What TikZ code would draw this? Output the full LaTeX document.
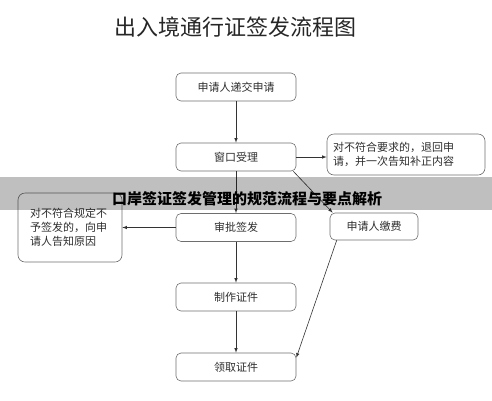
\documentclass[tikz,border=0pt]{standalone}
\usepackage{fontspec}
\usepackage{xcolor}
\usepackage{tikz}
\usetikzlibrary{shapes,arrows,positioning}
\newfontfamily\cjk{Noto Sans CJK SC}
\definecolor{boxline}{RGB}{110,110,110}
\definecolor{boxtext}{RGB}{45,45,45}
\tikzset{
    stepbox/.style={
        draw=boxline,
        line width=0.6pt,
        rounded corners=5pt,
        minimum width=120pt,
        minimum height=28pt,
        text=boxtext,
        font=\cjk\fontsize{11pt}{14pt}\selectfont
    },
    notebox/.style={
        stepbox,
        minimum width=0pt,
        minimum height=0pt,
        align=left,
        inner sep=6pt,
        rounded corners=7pt
    },
    flow/.style={
        -latex,
        line width=0.6pt,
        draw=black!80
    }
}
\begin{document}
\begin{tikzpicture}[x=1pt,y=-1pt]
    \useasboundingbox (0,0) rectangle (492,400);

    \node[font=\cjk\fontsize{22pt}{24pt}\selectfont, text=black!85] (title) at (235,27) {出入境通行证签发流程图};

    % main column
    \node[stepbox] (submit) at (236,87) {申请人递交申请};
    \node[stepbox] (accept) at (236,157) {窗口受理};
    \node[stepbox] (approve) at (236,227.5) {审批签发};
    \node[stepbox] (make) at (236,297) {制作证件};
    \node[stepbox] (collect) at (236,367) {领取证件};

    % side boxes
    \node[notebox, text width=146pt, minimum height=41pt] (back) at (406,154.5)
        {对不符合要求的，退回申\\请，并一次告知补正内容};
    \node[stepbox, minimum width=88pt, minimum height=27pt] (pay) at (374,226.5) {申请人缴费};
    \node[notebox, text width=80pt, minimum width=104pt, minimum height=69pt] (refuse) at (70,227.5)
        {对不符合规定不\\予签发的，向申\\请人告知原因};

    \draw[flow] (submit) -- (accept);
    \draw[flow] (accept) -- (approve);
    \draw[flow] (approve) -- (make);
    \draw[flow] (make) -- (collect);
    \draw[flow] (accept.east) -- (back.west |- accept.east);
    \draw[flow] (approve.west) -- (refuse.east |- approve.west);
    \draw[flow] ([xshift=-3pt]accept.south east) -- ([xshift=3pt]pay.north west);
    \draw[flow] ([xshift=7pt]pay.south west) -- ([yshift=-5pt]collect.north east);

    % banner on top
    \fill[black, fill opacity=0.25] (0,177) rectangle (492,210);
    \node[font=\cjk\bfseries\fontsize{15pt}{17pt}\selectfont, text=black] (banner) at (247,199)
        {口岸签证签发管理的规范流程与要点解析};
\end{tikzpicture}
\end{document}
